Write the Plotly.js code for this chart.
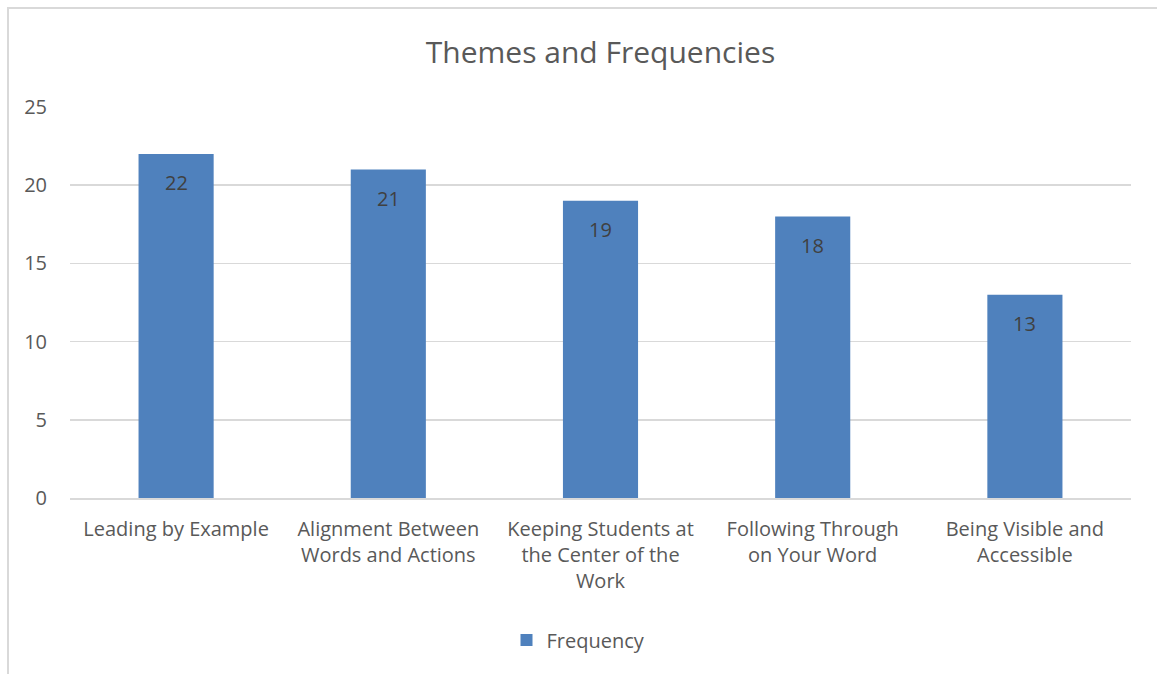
<!DOCTYPE html>
<html>
<head>
<meta charset="utf-8">
<script src="https://cdn.plot.ly/plotly-3.0.1.min.js"></script>
<style>
  html, body { margin: 0; padding: 0; background: #fff; }
  #wrap { position: relative; width: 1157px; height: 674px; overflow: hidden; }
  #chart { position: absolute; left: 0; top: 0; width: 1157px; height: 674px; }
  #frame { position: absolute; left: 7px; top: 7px; width: 1160px; height: 680px;
           border-left: 2px solid #d9d9d9; border-top: 2px solid #d9d9d9; pointer-events: none; }
</style>
</head>
<body>
<div id="wrap">
  <div id="chart"></div>
  <div id="frame"></div>
</div>
<script>
const categories = [
  "Leading by Example",
  "Alignment Between<br>Words and Actions",
  "Keeping Students at<br>the Center of the<br>Work",
  "Following Through<br>on Your Word",
  "Being Visible and<br>Accessible"
];
const frequency = [22, 21, 19, 18, 13];
const yTicks = [0, 5, 10, 15, 20, 25];

const FONT = "Open Sans, Liberation Sans, sans-serif";

const trace = {
  type: "bar",
  name: "Frequency",
  x: categories,
  y: frequency,
  marker: { color: "#4f81bd" },
  hoverinfo: "skip"
};

const annotations = categories.map((c, i) => ({
  x: c, y: frequency[i], xref: "x", yref: "y",
  text: String(frequency[i]),
  showarrow: false, yanchor: "middle", yshift: -29,
  font: { family: FONT, size: 20, color: "#404040" }
}));

const layout = {
  width: 1157, height: 674,
  margin: { l: 70, r: 26, t: 107, b: 176 },
  paper_bgcolor: "#ffffff",
  plot_bgcolor: "#ffffff",
  bargap: 0.646,
  title: {
    text: "Themes and Frequencies",
    font: { family: FONT, size: 30, color: "#595959" },
    x: 0.5, xanchor: "center", xref: "paper",
    y: 1 - 52 / 674, yanchor: "middle", yref: "container"
  },
  xaxis: {
    type: "category",
    showgrid: false,
    showline: true, linecolor: "#d9d9d9", linewidth: 1.5,
    ticks: "", ticklabelstandoff: 12,
    tickfont: { family: FONT, size: 20, color: "#595959" },
    tickangle: 0,
    fixedrange: true
  },
  yaxis: {
    range: [0, 25],
    tickvals: yTicks,
    ticktext: yTicks.map(String),
    showgrid: true, gridcolor: "#d9d9d9", gridwidth: 1.5,
    zeroline: false, showline: false,
    ticks: "", ticklabelstandoff: 22,
    tickfont: { family: FONT, size: 20, color: "#595959" },
    fixedrange: true
  },
  showlegend: true,
  legend: {
    orientation: "h",
    x: 0.5, xanchor: "center", xref: "container",
    y: 1 - 640 / 674, yanchor: "middle", yref: "container",
    font: { family: FONT, size: 20, color: "#595959" }
  },
  annotations: annotations
};

Plotly.newPlot("chart", [trace], layout, { displayModeBar: false, staticPlot: true });
</script>
</body>
</html>
